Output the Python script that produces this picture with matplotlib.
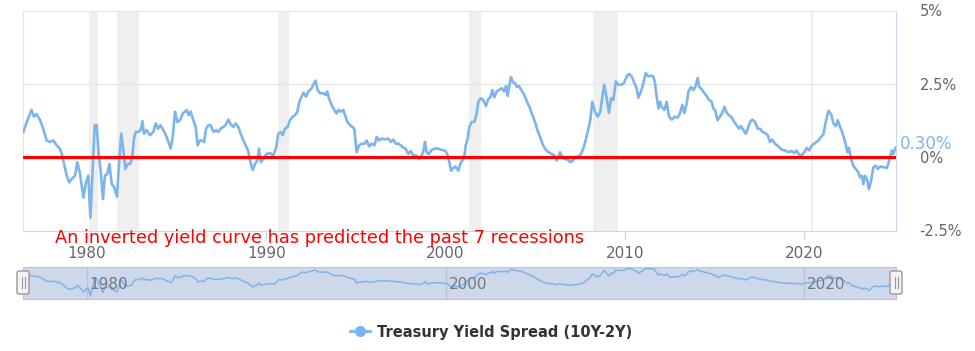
import matplotlib.pyplot as plt
import matplotlib.transforms as mtransforms
from matplotlib.lines import Line2D
from matplotlib.patches import FancyBboxPatch

plt.rcParams['font.family'] = ['DejaVu Sans']

# 10Y-2Y spread (year, percent)
years_a = [1976.45, 1976.64, 1976.91, 1977.04, 1977.19, 1977.38, 1977.56, 1977.75, 1977.94, 1978.12,
           1978.31, 1978.49, 1978.59, 1978.72, 1978.87, 1979.00, 1979.14, 1979.33, 1979.46, 1979.61,
           1979.80, 1979.94, 1980.07, 1980.19, 1980.32, 1980.43, 1980.54, 1980.65, 1980.78, 1980.89,
           1981.00, 1981.13, 1981.25, 1981.38, 1981.52, 1981.67, 1981.80, 1981.91, 1982.03, 1982.14,
           1982.27, 1982.40, 1982.51, 1982.62, 1982.71, 1982.86, 1982.99, 1983.09, 1983.18, 1983.33,
           1983.51, 1983.70, 1983.83, 1983.96, 1984.09, 1984.26, 1984.44, 1984.57, 1984.67, 1984.78,
           1984.91, 1985.04, 1985.19, 1985.34, 1985.47, 1985.56, 1985.67, 1985.78, 1985.93, 1986.06,
           1986.17, 1986.30, 1986.41, 1986.53, 1986.64, 1986.77, 1986.90, 1987.05, 1987.19, 1987.33,
           1987.45, 1987.60, 1987.73, 1987.88, 1988.01, 1988.16, 1988.29, 1988.44, 1988.57, 1988.72,
           1988.85, 1988.98, 1989.09, 1989.24, 1989.37, 1989.50, 1989.59, 1989.69, 1989.83, 1990.02,
           1990.21, 1990.39, 1990.54, 1990.67, 1990.80, 1990.91, 1991.04, 1991.19, 1991.32, 1991.47,
           1991.60, 1991.73, 1991.84, 1991.97, 1992.07, 1992.21, 1992.34, 1992.53, 1992.62, 1992.75]
spread_a = [0.86, 1.20, 1.61, 1.38, 1.47, 1.26, 0.97, 0.57, 0.52, 0.57,
            0.40, 0.29, 0.11, -0.23, -0.63, -0.86, -0.75, -0.63, -0.17, -0.57,
            -1.38, -0.86, -0.63, -2.06, -0.34, 1.09, 1.09, 0.11, -0.57, -1.43,
            -0.63, -0.57, -0.23, -0.92, -1.03, -1.35, -0.11, 0.80, 0.23, -0.40,
            -0.23, -0.23, -0.06, 0.63, 0.86, 0.86, 0.92, 1.23, 0.80, 0.92,
            0.75, 0.86, 1.15, 0.97, 1.09, 0.92, 0.69, 0.46, 0.29, 0.69,
            1.55, 1.20, 1.26, 1.49, 1.55, 1.61, 1.43, 1.55, 1.26, 1.03,
            0.40, 0.57, 0.57, 0.52, 0.97, 1.09, 1.09, 0.86, 0.92, 0.86,
            0.97, 1.03, 1.09, 1.28, 1.12, 1.03, 1.15, 1.03, 0.80, 0.57,
            0.40, 0.23, -0.11, -0.44, -0.23, -0.11, 0.29, -0.17, -0.06, 0.11,
            0.14, 0.06, 0.29, 0.80, 0.86, 0.75, 0.97, 1.03, 1.26, 1.38,
            1.43, 1.55, 1.89, 2.06, 2.20, 2.06, 2.24, 2.35, 2.47, 2.61]

years_b = [1992.86, 1992.99, 1993.18, 1993.31, 1993.40, 1993.49, 1993.64, 1993.79, 1993.92, 1994.02,
           1994.17, 1994.30, 1994.39, 1994.52, 1994.67, 1994.80, 1994.91, 1994.97, 1995.04, 1995.17,
           1995.32, 1995.47, 1995.60, 1995.73, 1995.88, 1996.03, 1996.16, 1996.29, 1996.43, 1996.62,
           1996.81, 1996.95, 1997.09, 1997.22, 1997.36, 1997.51, 1997.64, 1997.77, 1997.92, 1998.05,
           1998.20, 1998.35, 1998.52, 1998.67, 1998.78, 1998.85, 1998.94, 1999.07, 1999.22, 1999.41,
           1999.60, 1999.78, 2000.00, 2000.12, 2000.23, 2000.30, 2000.43, 2000.56, 2000.71, 2000.82,
           2000.93, 2001.04, 2001.12, 2001.23, 2001.32, 2001.45, 2001.60, 2001.71, 2001.83, 2001.96,
           2002.10, 2002.25, 2002.38, 2002.51, 2002.61, 2002.72, 2002.85, 2002.98, 2003.13, 2003.26,
           2003.37, 2003.46, 2003.56, 2003.65, 2003.76, 2003.87, 2003.98, 2004.09, 2004.24, 2004.39,
           2004.54, 2004.71, 2004.84, 2004.99, 2005.12, 2005.27, 2005.40, 2005.54, 2005.73, 2005.92,
           2006.06, 2006.19, 2006.38, 2006.51, 2006.66, 2006.81, 2006.96, 2007.11, 2007.25, 2007.40,
           2007.55, 2007.68, 2007.81, 2007.96, 2008.07, 2008.18, 2008.33, 2008.48, 2008.63, 2008.74,
           2008.85]
spread_b = [2.29, 2.18, 2.18, 2.12, 2.24, 2.01, 1.78, 1.61, 1.49, 1.61,
            1.55, 1.61, 1.43, 1.20, 1.09, 1.03, 0.97, 0.57, 0.17, 0.40,
            0.46, 0.46, 0.57, 0.37, 0.46, 0.40, 0.69, 0.57, 0.63, 0.61,
            0.63, 0.52, 0.60, 0.46, 0.46, 0.40, 0.32, 0.29, 0.11, 0.21,
            0.06, 0.06, -0.06, 0.06, 0.25, 0.52, 0.17, 0.11, 0.25, 0.29,
            0.29, 0.25, 0.21, 0.06, -0.23, -0.46, -0.37, -0.32, -0.46, -0.23,
            -0.11, 0.00, 0.40, 0.63, 1.03, 1.20, 1.20, 1.43, 1.89, 2.01,
            1.95, 1.74, 1.97, 2.06, 2.29, 2.04, 2.24, 2.29, 2.35, 2.24,
            2.43, 2.09, 2.47, 2.73, 2.55, 2.52, 2.39, 2.43, 2.27, 2.12,
            1.89, 1.66, 1.43, 1.20, 0.92, 0.69, 0.46, 0.29, 0.17, 0.11,
            0.06, -0.11, 0.17, 0.00, -0.06, -0.09, -0.17, -0.11, 0.00, 0.02,
            0.11, 0.29, 0.57, 0.97, 1.26, 1.89, 1.55, 1.38, 1.55, 2.06,
            2.47]

years_c = [2008.98, 2009.11, 2009.23, 2009.36, 2009.49, 2009.63, 2009.82, 2009.97, 2010.10, 2010.23,
           2010.38, 2010.53, 2010.66, 2010.75, 2010.90, 2011.03, 2011.16, 2011.31, 2011.46, 2011.59,
           2011.68, 2011.77, 2011.87, 2011.96, 2012.05, 2012.20, 2012.33, 2012.46, 2012.61, 2012.79,
           2012.94, 2013.07, 2013.20, 2013.32, 2013.45, 2013.54, 2013.69, 2013.82, 2013.95, 2014.06,
           2014.15, 2014.28, 2014.43, 2014.56, 2014.69, 2014.84, 2014.93, 2015.03, 2015.17, 2015.30,
           2015.43, 2015.55, 2015.68, 2015.81, 2015.96, 2016.10, 2016.23, 2016.36, 2016.48, 2016.61,
           2016.74, 2016.85, 2016.98, 2017.11, 2017.26, 2017.41, 2017.54, 2017.67, 2017.81, 2017.96,
           2018.09, 2018.22, 2018.37, 2018.56, 2018.74, 2018.93, 2019.12, 2019.30, 2019.45, 2019.58,
           2019.71, 2019.86, 2020.01, 2020.14, 2020.27, 2020.42, 2020.60, 2020.79, 2020.94, 2021.07,
           2021.20, 2021.35, 2021.50, 2021.63, 2021.76, 2021.87, 2022.00, 2022.13, 2022.28, 2022.41,
           2022.50, 2022.61, 2022.74, 2022.87, 2023.02, 2023.11, 2023.21, 2023.30, 2023.39, 2023.50,
           2023.61, 2023.73, 2023.86, 2023.99, 2024.10, 2024.23, 2024.41, 2024.60, 2024.69, 2024.79,
           2024.88, 2024.97, 2025.10]
spread_c = [2.01, 1.51, 2.01, 1.95, 2.58, 2.47, 2.47, 2.55, 2.75, 2.84,
            2.75, 2.52, 2.35, 2.03, 2.24, 2.52, 2.87, 2.75, 2.78, 2.75,
            2.52, 2.06, 1.66, 1.89, 1.72, 1.61, 1.89, 1.38, 1.28, 1.38,
            1.35, 1.49, 1.78, 1.51, 1.84, 2.24, 2.39, 2.29, 2.43, 2.70,
            2.39, 2.32, 2.18, 2.09, 1.95, 1.89, 1.66, 1.61, 1.26, 1.38,
            1.51, 1.72, 1.51, 1.43, 1.35, 1.20, 1.09, 0.97, 1.06, 0.92,
            0.80, 0.97, 1.20, 1.28, 1.20, 0.97, 0.97, 0.86, 0.83, 0.75,
            0.52, 0.60, 0.46, 0.37, 0.25, 0.23, 0.17, 0.21, 0.14, 0.23,
            0.09, 0.06, 0.17, 0.32, 0.23, 0.40, 0.48, 0.57, 0.69, 0.78,
            1.20, 1.58, 1.47, 1.15, 1.06, 1.26, 1.03, 0.83, 0.52, 0.17,
            0.32, -0.06, -0.29, -0.40, -0.52, -0.69, -0.63, -0.92, -0.63, -0.75,
            -1.09, -0.80, -0.34, -0.29, -0.40, -0.32, -0.34, -0.37, -0.23, 0.00,
            0.23, 0.11, 0.32]

recession_start = [1980.11, 1981.67, 1990.65, 2001.30, 2008.22, 2020.38]
recession_end = [1980.61, 1982.90, 1991.27, 2001.97, 2009.62, 2020.50]

decades = [1980, 1990, 2000, 2010, 2020]
nav_years = [1980, 2000, 2020]
y_ticks = [-2.5, 0, 2.5, 5]
y_labels = ['-2.5%', '0%', '2.5%', '5%']

years = years_a + years_b + years_c
spread = spread_a + spread_b + spread_c

W, H = 975, 351
blue = '#7cb5ec'
grey_text = '#666666'


def box(l, t, r, b):
    return [l / W, 1 - b / H, (r - l) / W, (b - t) / H]


fig = plt.figure(figsize=(W / 100, H / 100), dpi=100)

# main chart
ax = fig.add_axes(box(23, 10.5, 896, 230.5))
for s, e in zip(recession_start, recession_end):
    ax.axvspan(s, e, color='#efefef', lw=0, zorder=0)
ax.axhline(2.5, color='#e6e6e6', lw=1, zorder=1)
ax.plot(years, spread, color=blue, lw=1.9, zorder=3, solid_joinstyle='round')
ax.axhline(0, color='#ff0000', lw=2.3, zorder=4)
ax.set_xlim(1976.43, 2025.12)
ax.set_ylim(-2.5, 5)

ax.yaxis.tick_right()
ax.set_yticks(y_ticks, y_labels)
ax.tick_params(axis='y', length=0, pad=17, labelsize=10.5, labelcolor=grey_text)
ax.set_xticks(decades, [str(d) for d in decades])
ax.tick_params(axis='x', length=6, width=1, color='#ccd6eb', pad=5,
               labelsize=11, labelcolor=grey_text)
for side in ['top', 'left']:
    ax.spines[side].set_color('#e6e6e6')
for side in ['bottom', 'right']:
    ax.spines[side].set_color('#ccd6eb')

ax.annotate('0.30%', xy=(1, spread[-1]), xycoords=('axes fraction', 'data'),
            xytext=(3, 3), textcoords='offset points', ha='left', va='center',
            color=blue, fontsize=12)

fig.text(55 / W, 1 - 238 / H, 'An inverted yield curve has predicted the past 7 recessions',
         color='#ff0000', fontsize=12.75, ha='left', va='center')

# navigator
nav = fig.add_axes(box(23, 267, 896, 299))
nav.set_facecolor('#cfd7eb')
nav.plot(years, spread, color=blue, lw=1.1, zorder=3)
nav.set_xlim(1976.43, 2025.12)
nav.set_ylim(-2.6, 3.1)
for y in nav_years:
    nav.axvline(y, color='#b8c1d6', lw=1, zorder=1)
    nav.annotate(str(y), xy=(y, 0.45), xycoords=('data', 'axes fraction'),
                 xytext=(2, 0), textcoords='offset points', ha='left', va='center',
                 fontsize=11, color='#777777', zorder=4)
nav.set_xticks([])
nav.set_yticks([])
for side in nav.spines:
    nav.spines[side].set_color('#c4c4c4')

# navigator handles
for hx in [17, 890]:
    fig.add_artist(FancyBboxPatch((hx, H - 294), 12, 23,
                                  boxstyle='round,pad=0,rounding_size=2',
                                  facecolor='#f2f2f2', edgecolor='#999999', lw=1,
                                  transform=mtransforms.IdentityTransform()))
    for lx in [hx + 4.5, hx + 7.5]:
        fig.add_artist(Line2D([lx, lx], [H - 288, H - 277], color='#999999', lw=0.8,
                              transform=mtransforms.IdentityTransform()))

fig.legend(handles=[Line2D([], [], color=blue, lw=2, marker='o', markersize=7)],
           labels=['Treasury Yield Spread (10Y-2Y)'], loc='center',
           bbox_to_anchor=(491 / W, 1 - 332 / H), frameon=False,
           handlelength=1.4, handletextpad=0.5,
           prop={'weight': 'bold', 'size': 10.5}, labelcolor='#333333')

fig.savefig('out.png', dpi=100)
